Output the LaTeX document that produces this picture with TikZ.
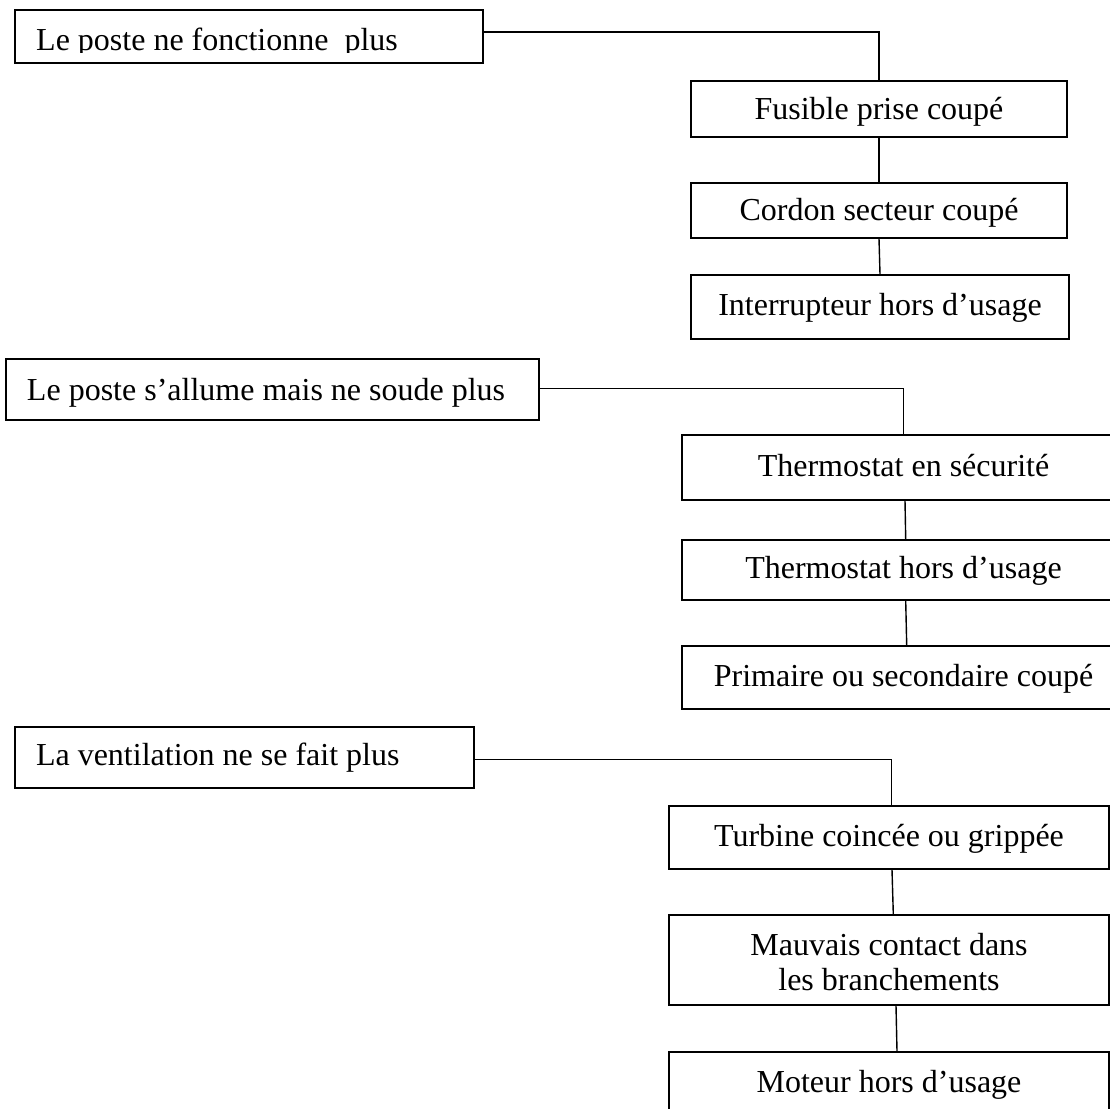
\documentclass[tikz,border=0pt]{standalone}
\usepackage{fontspec}
\setmainfont{Liberation Serif}
\begin{document}
\begin{tikzpicture}[x=1pt,y=-1pt,
  box/.style={draw=black, line width=1.4pt, inner sep=0pt,
    font=\fontsize{32}{35}\selectfont, align=center},
  one/.style={text height=21pt, text depth=#1},
  one/.default=4pt,
  lbox/.style={box, inner xsep=21pt},
  link/.style={draw=black, line width=1.4pt}]
\path[use as bounding box] (0,0) rectangle (1110,1108);
\clip (0,0) rectangle (1110,1108);

% --- first symptom: the set does not work at all
\node[box, minimum width=468pt, minimum height=53pt] (b1) at (249,36.5) {};
\begin{scope}
  \clip (0,0) rectangle (1110,53);
  \node[anchor=base west, inner sep=0pt, font=\fontsize{32}{35}\selectfont] (b1t) at (36,51) {Le poste ne fonctionne~~plus};
\end{scope}
\node[box, one=0pt, minimum width=376pt, minimum height=56pt] (f1) at (879,109) {Fusible prise coupé};
\node[box, one=1pt, minimum width=376pt, minimum height=55pt] (f2) at (879,210.5) {Cordon secteur coupé};
\node[box, one, minimum width=378pt, minimum height=64pt] (f3) at (880,307) {Interrupteur hors d’usage};

\draw[link] ([yshift=4.5pt]b1.east) -| (f1.north);
\draw[link] (f1.south) -- (f2.north);
\draw[link] (f2.south) -- (f3.north);

% --- second symptom: it powers on but does not weld
\node[lbox, one=0pt, minimum height=61pt] (b2) at (272.5,389.5) {\makebox[491pt][l]{Le poste s’allume mais ne soude plus}};
\node[box, one, minimum width=443pt, minimum height=65pt] (t1) at (903.5,467.5) {Thermostat en sécurité};
\node[box, one, minimum width=443pt, minimum height=60pt] (t2) at (903.5,570) {Thermostat hors d’usage};
\node[box, one, minimum width=443pt, minimum height=63pt] (t3) at (903.5,677.5) {Primaire ou secondaire coupé};

\draw[link] ([yshift=1.2pt]b2.east) -| (t1.north);
\draw[link] ([xshift=1.5pt]t1.south) -- ([xshift=2.2pt]t2.north);
\draw[link] ([xshift=2.2pt]t2.south) -- ([xshift=3.2pt]t3.north);

% --- third symptom: no ventilation
\node[lbox, one=6pt, minimum height=61pt] (b3) at (244.5,757.5) {\makebox[417pt][l]{La ventilation ne se fait plus}};
\node[box, one, minimum width=440pt, minimum height=63pt] (v1) at (889,837.5) {Turbine coincée ou grippée};
\node[box, minimum width=440pt, minimum height=90pt] (v2) at (889,960) {\raisebox{-6pt}[\height][\depth]{\begin{tabular}{@{}c@{}}Mauvais contact dans\\les branchements\end{tabular}}};
\node[box, one, minimum width=440pt, minimum height=63pt] (v3) at (889,1083.5) {Moteur hors d’usage};

\draw[link] ([yshift=-2.2pt]b3.east) -| ([xshift=2.5pt]v1.north);
\draw[link] ([xshift=3pt]v1.south) -- ([xshift=4.3pt]v2.north);
\draw[link] ([xshift=7pt]v2.south) -- ([xshift=8pt]v3.north);
\end{tikzpicture}
\end{document}
